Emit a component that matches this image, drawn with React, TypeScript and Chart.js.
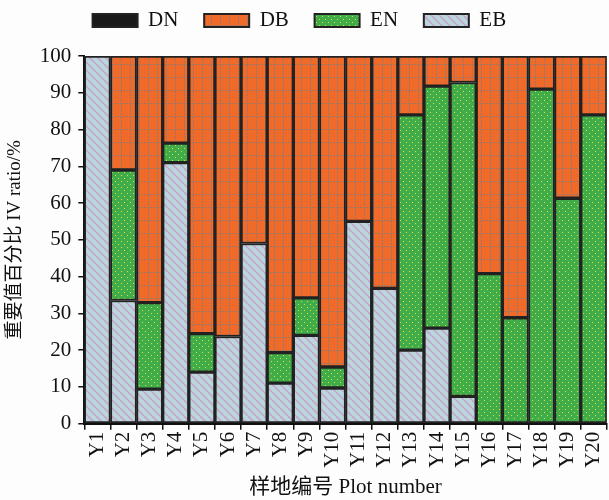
import React, { useEffect, useRef } from "react";
import { Chart, registerables } from "chart.js";

Chart.register(...registerables);

const categories = ["Y1", "Y2", "Y3", "Y4", "Y5", "Y6", "Y7", "Y8", "Y9", "Y10", "Y11", "Y12", "Y13", "Y14", "Y15", "Y16", "Y17", "Y18", "Y19", "Y20"];
const EB = [100, 33.5, 9.4, 71, 14, 23.7, 49, 11, 24, 9.7, 55, 36.8, 20, 26, 7.4, 0, 0, 0, 0, 0];
const EN = [0, 35.5, 23.5, 5.3, 10.5, 0, 0, 8.3, 10.2, 5.7, 0, 0, 64, 65.8, 85.4, 40.8, 28.8, 91, 61.3, 84];
const DB = [0, 31, 67.1, 23.7, 75.5, 76.3, 51, 80.7, 65.8, 84.6, 45, 63.2, 16, 8.2, 7.2, 59.2, 71.2, 9, 38.7, 16];
const DN = [0, 0, 0, 0, 0, 0, 0, 0, 0, 0, 0, 0, 0, 0, 0, 0, 0, 0, 0, 0];
const yTicks = [0, 10, 20, 30, 40, 50, 60, 70, 80, 90, 100];

const SERIF = "'Liberation Serif', 'Noto Sans CJK SC', serif";

function makePattern(kind: string): CanvasPattern | string {
  const c = document.createElement("canvas");
  const ctx = c.getContext("2d")!;
  if (kind === "EB") {
    c.width = 8; c.height = 8;
    ctx.fillStyle = "#bad8dc";
    ctx.fillRect(0, 0, 8, 8);
    ctx.strokeStyle = "#c4a8cf";
    ctx.lineWidth = 1.8;
    for (let o = -8; o <= 16; o += 8) {
      ctx.beginPath();
      ctx.moveTo(o, 0);
      ctx.lineTo(o + 8, 8);
      ctx.stroke();
    }
  } else if (kind === "EN") {
    c.width = 6; c.height = 6;
    ctx.fillStyle = "#40ad4a";
    ctx.fillRect(0, 0, 6, 6);
    ctx.fillStyle = "#d6e03e";
    ctx.fillRect(1, 1, 1, 1);
    ctx.fillRect(4, 4, 1, 1);
  } else if (kind === "DB") {
    c.width = 9; c.height = 13;
    ctx.fillStyle = "#f06a2a";
    ctx.fillRect(0, 0, 9, 13);
    ctx.fillStyle = "#98786a";
    for (let i = 0; i < 9; i += 3) ctx.fillRect(i, 12, 2, 1);
    for (let i = 0; i < 13; i += 3) ctx.fillRect(4, i, 1, 2);
  } else {
    return "#1a1a1a";
  }
  return ctx.createPattern(c, "repeat")!;
}

const legendGap = {
  id: "legendGap",
  beforeInit(chart: any) {
    const orig = chart.legend.fit;
    chart.legend.fit = function () {
      orig.bind(this)();
      this.height += 15;
    };
  },
};

const NB = "\u00a0";

export default function App() {
  const ref = useRef<HTMLCanvasElement>(null);
  useEffect(() => {
    const ctx = ref.current!.getContext("2d")!;
    const border = "#222222";
    const chart = new Chart(ctx, {
      type: "bar",
      plugins: [legendGap],
      data: {
        labels: categories,
        datasets: [
          { label: "EB", data: EB, backgroundColor: makePattern("EB") as any, borderColor: border, borderWidth: 2, borderSkipped: false },
          { label: "EN", data: EN, backgroundColor: makePattern("EN") as any, borderColor: border, borderWidth: 2, borderSkipped: false },
          { label: "DB", data: DB, backgroundColor: makePattern("DB") as any, borderColor: border, borderWidth: 2, borderSkipped: false },
          { label: "DN", data: DN, backgroundColor: "#1a1a1a", borderColor: border, borderWidth: 0 },
        ],
      },
      options: {
        animation: false,
        responsive: false,
        maintainAspectRatio: false,
        layout: { padding: { left: 4, right: 0, top: 0, bottom: 0 } },
        datasets: { bar: { categoryPercentage: 1, barPercentage: 1 } },
        plugins: {
          legend: {
            reverse: true,
            position: "top",
            labels: {
              boxWidth: 45,
              boxHeight: 13,
              padding: 10,
              color: "#111",
              font: { family: SERIF, size: 21 },
              generateLabels: (ch: any) => {
                const items = Chart.defaults.plugins.legend.labels.generateLabels(ch);
                items.forEach((it: any) => {
                  it.strokeStyle = "#222";
                  it.lineWidth = 2;
                  it.text = it.text + (it.text === "EB" ? NB.repeat(5) : NB.repeat(3));
                });
                return items;
              },
            },
          },
          tooltip: { enabled: false },
        },
        scales: {
          x: {
            stacked: true,
            grid: { display: true, drawOnChartArea: false, drawTicks: true, tickLength: 6, color: "#111", lineWidth: 1.5 },
            border: { display: true, color: "#111", width: 2 },
            ticks: { color: "#111", autoSkip: false, maxRotation: 90, minRotation: 90, font: { family: SERIF, size: 21 }, padding: 2 },
            title: { display: true, text: "样地编号 Plot number", color: "#111", font: { family: SERIF, size: 21 }, padding: { top: 5, bottom: 0 } },
          },
          y: {
            stacked: true,
            min: 0,
            max: 100,
            afterBuildTicks: (axis: any) => { axis.ticks = yTicks.map((v) => ({ value: v })); },
            grid: { display: true, drawOnChartArea: false, drawTicks: true, tickLength: 6, color: "#111", lineWidth: 1.5 },
            border: { display: true, color: "#111", width: 2 },
            ticks: { color: "#111", font: { family: SERIF, size: 21 }, padding: 7 },
            title: { display: true, text: "重要值百分比 IV ratio/%", color: "#111", font: { family: SERIF, size: 19 }, padding: { top: 0, bottom: 6 } },
          },
        },
      },
    });
    return () => chart.destroy();
  }, []);
  return (
    <div style={{ position: "fixed", left: 0, top: 0, width: 609, height: 500, overflow: "hidden", background: "#fdfdfd" }}>
      <canvas ref={ref} width={621} height={500} style={{ display: "block", width: 621, height: 500 }} />
    </div>
  );
}
